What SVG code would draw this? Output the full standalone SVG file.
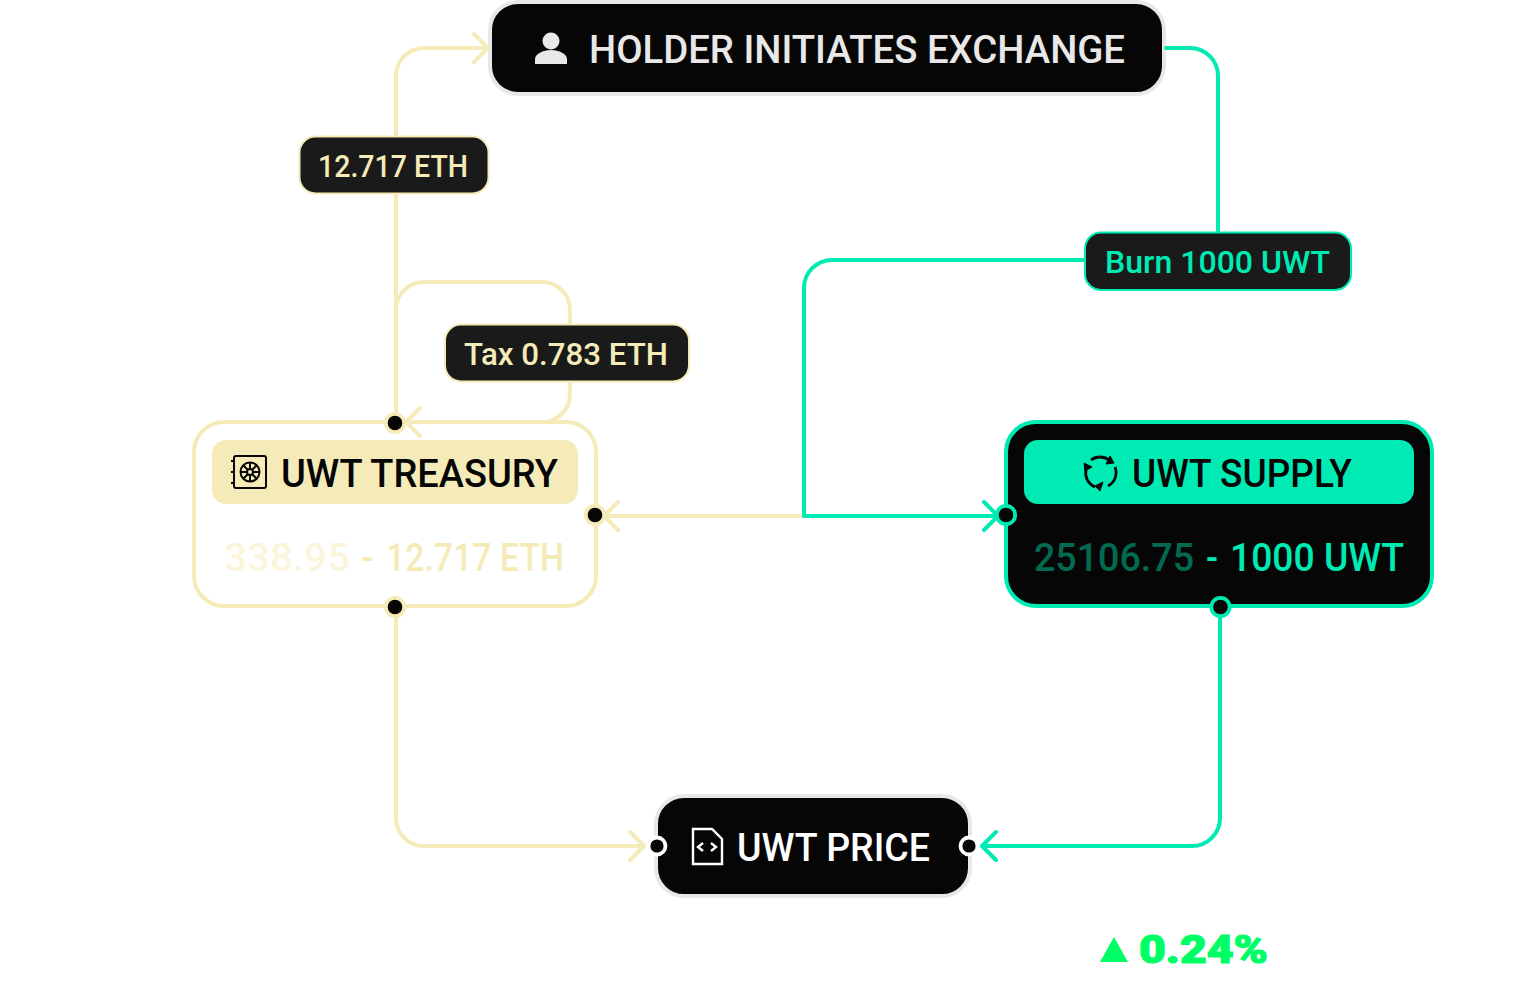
<svg xmlns="http://www.w3.org/2000/svg" width="1520" height="990" viewBox="0 0 1520 990">
<style>
text{font-family:Roboto,"Liberation Sans",sans-serif;font-weight:500}
.t36{font-size:38px}
.t30{font-size:31px}
.con{fill:none;stroke-width:4;stroke-linecap:round;stroke-linejoin:round}
.y{stroke:#f5ebb8}
.g{stroke:#00ebb4}
.lab{fill:#1a1a1a;stroke-width:2}
.pt{fill:#060606;stroke-width:3.8}
</style>
<rect width="1520" height="990" fill="#fff"/>
<g id="node-holder">
<rect x="490" y="2" width="674" height="92" rx="28" fill="#060606" stroke="#e8e8e8" stroke-width="4"/>
<circle cx="551" cy="41" r="8.500" fill="#e8e8e8"/>
<path d="M535 64v-5c0-5 8-9 16-9s16 4 16 9v5z" fill="#e8e8e8"/>
<text class="t36" x="589" y="63" fill="#e8e8e8" textLength="536" lengthAdjust="spacingAndGlyphs">HOLDER INITIATES EXCHANGE</text>
</g>
<g id="node-treasury">
<rect x="194" y="422" width="402" height="184" rx="30" fill="#fff" stroke="#f5ebb8" stroke-width="4"/>
<rect x="212" y="440" width="366" height="64" rx="14" fill="#f5ebb8"/>
<g fill="none" stroke="#060606" stroke-width="2">
<rect x="234" y="456" width="32" height="32" rx="2"/>
<path d="M231 461h3M231 472h3M231 483h3"/>
<circle cx="250" cy="472" r="9.500"/>
<circle cx="250" cy="472" r="3"/>
<path d="M250 469v-7M250 475v7M253 472h7M247 472h-7M252 470l5-5M248 474l-5 5M252 474l5 5M248 470l-5-5"/>
</g>
<text class="t36" x="281" y="487" fill="#060606" textLength="277" lengthAdjust="spacingAndGlyphs">UWT TREASURY</text>
<text class="t36" x="224" y="571" fill="#f5ebb8" fill-opacity=".5" textLength="126" lengthAdjust="spacingAndGlyphs">338.95</text>
<text class="t36" x="361" y="571" fill="#f5ebb8" textLength="13" lengthAdjust="spacingAndGlyphs">-</text>
<text class="t36" x="386" y="571" fill="#f5ebb8" textLength="178" lengthAdjust="spacingAndGlyphs">12.717 ETH</text>
</g>
<g id="node-supply">
<rect x="1006" y="422" width="426" height="184" rx="30" fill="#060606" stroke="#00ebb4" stroke-width="4"/>
<rect x="1024" y="440" width="390" height="64" rx="14" fill="#00ebb4"/>
<g fill="none" stroke="#060606" stroke-width="2.800">
<path d="M1091 460a15 15 0 0 1 18 0M1115 467a15 15 0 0 1-7 19M1095 487a15 15 0 0 1-9-17"/>
<path d="M1110 456l4 7l-8 1zM1084 463l1 8l7-4zM1103 482l-8 4l5 5z" fill="#060606" stroke-width="1"/>
</g>
<text class="t36" x="1132" y="487" fill="#060606" textLength="220" lengthAdjust="spacingAndGlyphs">UWT SUPPLY</text>
<text class="t36" x="1034" y="571" fill="#00ebb4" fill-opacity=".45" textLength="160" lengthAdjust="spacingAndGlyphs">25106.75</text>
<text class="t36" x="1206" y="571" fill="#00ebb4" textLength="12" lengthAdjust="spacingAndGlyphs">-</text>
<text class="t36" x="1230" y="571" fill="#00ebb4" textLength="174" lengthAdjust="spacingAndGlyphs">1000 UWT</text>
</g>
<g id="node-price">
<rect x="656" y="796" width="314" height="100" rx="28" fill="#060606" stroke="#e8e8e8" stroke-width="4"/>
<path d="M693 829H712L722 839V864H693Z" fill="none" stroke="#fff" stroke-width="2.400"/>
<path d="M703 843l-5 4l5 4M711 843l5 4l-5 4" fill="none" stroke="#fff" stroke-width="2.400"/>
<text class="t36" x="737" y="861" fill="#fff" textLength="193" lengthAdjust="spacingAndGlyphs">UWT PRICE</text>
</g>
<g id="connectors">
<path class="con y" d="M396 422V76a28 28 0 0 1 28-28H488M474 34l14 14l-14 14"/>
<path class="con y" d="M396 310a28 28 0 0 1 28-28H542a28 28 0 0 1 28 28V394a28 28 0 0 1-28 28H406M420 408l-14 14l14 14"/>
<path class="con y" d="M804 516H604M618 502l-14 14l14 14"/>
<path class="con y" d="M396 606V818a28 28 0 0 0 28 28H644M630 832l14 14l-14 14"/>
<path class="con g" d="M1166 48H1190a28 28 0 0 1 28 28V232"/>
<path class="con g" d="M1085 260H832a28 28 0 0 0-28 28V516H998M984 502l14 14l-14 14"/>
<path class="con g" d="M1220 606V818a28 28 0 0 1-28 28H982M996 832l-14 14l14 14"/>
</g>
<g id="ports">
<circle class="pt y" cx="395" cy="423" r="9.200"/>
<circle class="pt y" cx="595" cy="515" r="9.200"/>
<circle class="pt y" cx="395" cy="607" r="9.200"/>
<circle class="pt g" cx="1006" cy="515" r="9.200"/>
<circle class="pt g" cx="1220.500" cy="607" r="9.200"/>
<circle class="pt" cx="657" cy="846" r="8.500" stroke="#fff"/>
<circle class="pt" cx="969" cy="846" r="8.500" stroke="#fff"/>
</g>
<g id="label-eth">
<rect class="lab y" x="299.500" y="136.500" width="189" height="57" rx="16"/>
<text class="t30" x="318" y="177" fill="#f5ebb8" textLength="150" lengthAdjust="spacingAndGlyphs">12.717 ETH</text>
</g>
<g id="label-tax">
<rect class="lab y" x="445" y="324.500" width="244" height="57" rx="16"/>
<text class="t30" x="464" y="365" fill="#f5ebb8" textLength="204" lengthAdjust="spacingAndGlyphs">Tax 0.783 ETH</text>
</g>
<g id="label-burn">
<rect class="lab g" x="1085" y="232.500" width="266" height="57.500" rx="16"/>
<text class="t30" x="1105" y="273" fill="#00ebb4" textLength="225" lengthAdjust="spacingAndGlyphs">Burn 1000 UWT</text>
</g>
<g id="change">
<path d="M1100 962H1128L1114 937Z" fill="#00ff66"/>
<text x="1139" y="963" font-size="39" style="font-weight:900" fill="#00ff66" stroke="#00ff66" stroke-width="1.200" textLength="129" lengthAdjust="spacingAndGlyphs">0.24%</text>
</g>
</svg>
